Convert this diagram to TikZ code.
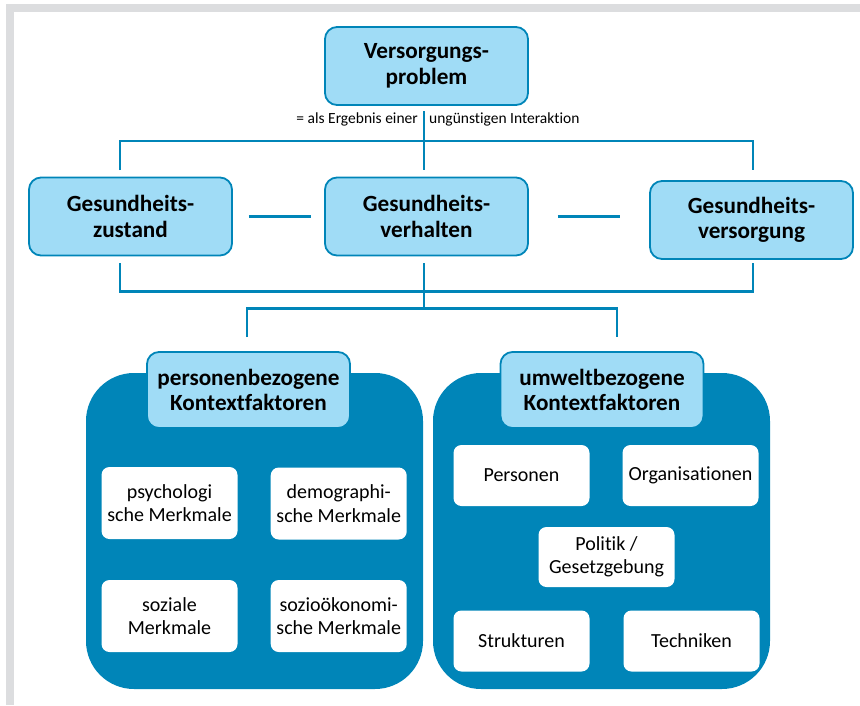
\documentclass[tikz,border=0pt]{standalone}
\usepackage{fontspec}
\setmainfont{Carlito}[Ligatures=NoCommon]

\definecolor{deepblue}{HTML}{0085B8}
\definecolor{paleblue}{HTML}{A0DCF6}
\definecolor{framegray}{HTML}{DCDDDF}

\begin{document}
\begin{tikzpicture}[x=1pt,y=-1pt,
        link/.style={draw=deepblue,line width=2.5pt},
        headbox/.style={draw=deepblue,line width=1.8pt,fill=paleblue,rounded corners=12pt,
            minimum width=203pt,minimum height=78pt,align=center,
            font=\fontsize{23.2}{25.5}\selectfont\bfseries},
        ctxbox/.style={fill=deepblue,rounded corners=48pt,minimum width=337pt,minimum height=316pt},
        itembox/.style={fill=white,rounded corners=8pt,minimum width=136pt,align=center,
            font=\fontsize{20}{23.5}\selectfont},
        notetext/.style={inner sep=0pt,font=\fontsize{15.5}{18}\selectfont}]
            \useasboundingbox (0,0) rectangle (860,705);
            \fill[framegray] (6,4) rectangle (860,12);
            \fill[framegray] (6,4) rectangle (14,705);

            \node[headbox] (problem) at (426.5,66) {Versorgungs-\\problem};
            \node[notetext,anchor=base east] (note1) at (418,123) {= als Ergebnis einer};
            \node[notetext,anchor=base west] (note2) at (429,123) {ungünstigen Interaktion};

            \node[headbox] (zustand) at (130.5,216.5) {Gesundheits-\\zustand};
            \node[headbox] (verhalten) at (426.5,216.5) {Gesundheits-\\verhalten};
            \node[headbox] (versorgung) at (751.5,220) {Gesundheits-\\versorgung};

            \draw[link] ([xshift=16pt]zustand.east) -- ++(62.5,0);
            \draw[link] ([xshift=29pt]verhalten.east) -- ++(62,0);

            \coordinate (upL) at (120,141);
            \coordinate (upR) at (753,141);
            \coordinate (upTop) at (424,111);
            \coordinate (dropL) at (120,170);
            \coordinate (dropM) at (424,170);
            \coordinate (dropR) at (753,170);
            \draw[link] (dropL) -- (upL) -- (upR) -- (dropR);
            \draw[link] (upTop) -- (dropM);

            \coordinate (riseL) at (120,263);
            \coordinate (riseM) at (424,263);
            \coordinate (riseR) at (753,263);
            \coordinate (lowL) at (120,291.5);
            \coordinate (lowR) at (753,291.5);
            \coordinate (forkM) at (424,308.5);
            \coordinate (forkL) at (247,308.5);
            \coordinate (forkR) at (617,308.5);
            \coordinate (endL) at (247,337);
            \coordinate (endR) at (617,337);
            \draw[link] (riseL) -- (lowL) -- (lowR) -- (riseR);
            \draw[link] (riseM) -- (forkM);
            \draw[link] (endL) -- (forkL) -- (forkR) -- (endR);

            \node[ctxbox] (personctx) at (254.5,531) {};
            \node[ctxbox] (umweltctx) at (601.5,531) {};
            \node[headbox,minimum height=76pt] (personhead) at (248.5,390) {personenbezogene\\Kontextfaktoren};
            \node[headbox,minimum height=76pt] (umwelthead) at (602,390) {umweltbezogene\\Kontextfaktoren};

            \node[itembox,minimum height=72pt] (psych) at (169.5,503) {psychologi\\sche Merkmale};
            \node[itembox,minimum height=72pt] (demo) at (338.7,503.5) {demographi-\\sche Merkmale};
            \node[itembox,minimum height=72pt] (sozial) at (169.5,616) {soziale\\Merkmale};
            \node[itembox,minimum height=72pt] (soziooek) at (338.7,616) {sozioökonomi-\\sche Merkmale};

            \node[itembox,minimum height=61pt] (personen) at (521.5,475.5) {Personen};
            \node[itembox,minimum height=61pt] (organisation) at (690.5,475.5) {Organisationen};
            \node[itembox,minimum height=60pt] (politik) at (606.5,557) {Politik /\\Gesetzgebung};
            \node[itembox,minimum height=61pt] (strukturen) at (521.5,641) {Strukturen};
            \node[itembox,minimum height=61pt] (techniken) at (691.5,641) {Techniken};
        \end{tikzpicture}
\end{document}
